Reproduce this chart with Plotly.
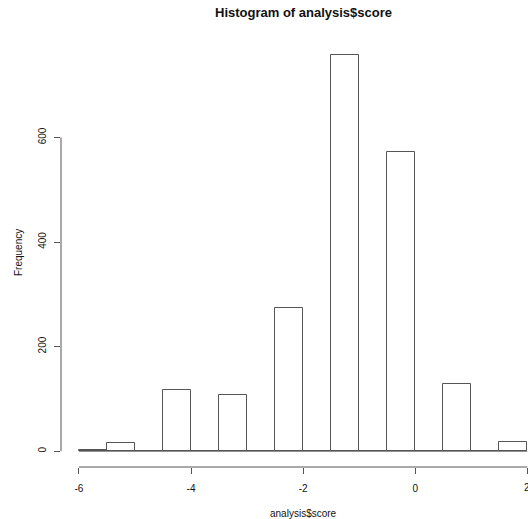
import plotly.graph_objects as go

# Data (bin width 0.5)
bin_edges = [-6.0, -5.5, -5.0, -4.5, -4.0, -3.5, -3.0, -2.5, -2.0, -1.5, -1.0, -0.5, 0.0, 0.5, 1.0, 1.5, 2.0]
counts = [2, 15, 0, 117, 0, 108, 0, 273, 0, 758, 0, 572, 0, 128, 0, 17]
x_ticks = [-6, -4, -2, 0, 2]
y_ticks = [0, 200, 400, 600]

title_text = "Histogram of analysis$score"
x_label = "analysis$score"
y_label = "Frequency"

centers = [(a + b) / 2 for a, b in zip(bin_edges[:-1], bin_edges[1:])]
widths = [b - a for a, b in zip(bin_edges[:-1], bin_edges[1:])]

LINE = "#555555"
TEXT = "#111111"
FONT = "Liberation Sans, Arial, Helvetica, sans-serif"

fig = go.Figure()
fig.add_trace(go.Bar(
    x=centers, y=counts, width=widths,
    marker=dict(color="white", line=dict(color=LINE, width=1)),
    showlegend=False, hoverinfo="x+y",
))
# zero-height bins drawn as baseline (as R does)
fig.add_trace(go.Scatter(
    x=[bin_edges[0], bin_edges[-1]], y=[0, 0], mode="lines",
    line=dict(color=LINE, width=1), showlegend=False, hoverinfo="skip",
))

ymax = max(counts)
pad_y = 0.04 * ymax
xr = [bin_edges[0] - 0.04 * (bin_edges[-1] - bin_edges[0]), bin_edges[-1] + 0.012]

# tick labels drawn by plotly, except the last one which sits on the figure edge
shown_ticks = [t for t in x_ticks if t < xr[1] - 0.05]

fig.update_layout(
    width=528, height=519,
    margin=dict(l=61, r=0, t=39, b=52),
    paper_bgcolor="white", plot_bgcolor="white",
    font=dict(family=FONT, size=10, color=TEXT),
    bargap=0,
    xaxis=dict(
        range=xr, tickvals=x_ticks, ticktext=[str(v) for v in x_ticks],
        showgrid=False, zeroline=False, showline=False,
        ticks="outside", ticklen=6, tickcolor=LINE, tickwidth=1,
        ticklabelstandoff=6, tickfont=dict(size=10, color=TEXT),
    ),
    yaxis=dict(
        range=[-pad_y, ymax + pad_y], tickvals=y_ticks, ticktext=[str(v) for v in y_ticks],
        showgrid=False, zeroline=False, showline=False,
        ticks="outside", ticklen=6, tickcolor=LINE, tickwidth=1,
        tickangle=-90, ticklabelstandoff=4, tickfont=dict(size=10, color=TEXT),
    ),
    shapes=[
        dict(type="line", xref="x", yref="paper", x0=x_ticks[0], x1=x_ticks[-1], y0=0, y1=0,
             line=dict(color=LINE, width=1)),
        dict(type="line", xref="paper", yref="y", x0=0, x1=0, y0=y_ticks[0], y1=y_ticks[-1],
             line=dict(color=LINE, width=1)),
    ],
    annotations=[
        dict(text="<b>" + title_text + "</b>", xref="paper", yref="paper", x=0.519, y=1.061,
             xanchor="center", yanchor="middle", showarrow=False,
             font=dict(size=13, color=TEXT, family=FONT)),
        dict(text=x_label, xref="paper", yref="paper", x=0.519, y=-0.1075,
             xanchor="center", yanchor="middle", showarrow=False,
             font=dict(size=10, color=TEXT, family=FONT)),
        dict(text=y_label, xref="paper", yref="paper", x=-0.092, y=0.5,
             xanchor="center", yanchor="middle", showarrow=False, textangle=-90,
             font=dict(size=10, color=TEXT, family=FONT)),
    ] + [
        dict(text=str(t), xref="x", yref="paper", x=t, y=-0.047,
             xanchor="center", yanchor="middle", showarrow=False,
             font=dict(size=10, color=TEXT, family=FONT))
        for t in x_ticks if t not in shown_ticks
    ],
)

fig.write_html(
    "out.html",
    config={"displayModeBar": False},
    post_script="document.body.style.margin='0';document.body.style.overflow='hidden';",
)
